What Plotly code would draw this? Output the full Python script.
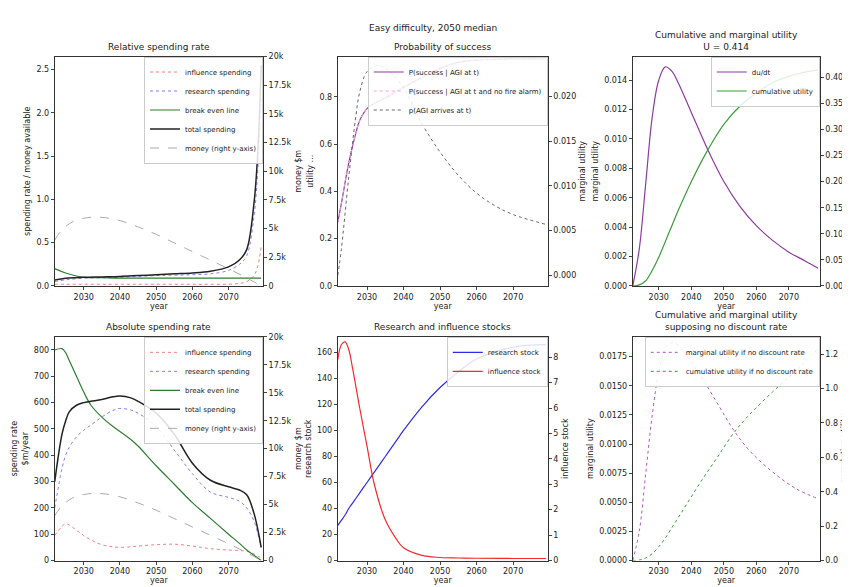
import plotly.graph_objects as go

years_a = [2022, 2025, 2030, 2035, 2040, 2045, 2050, 2055, 2060, 2065, 2070, 2073, 2075, 2077, 2078, 2079]
rel_influence = [0.02, 0.02, 0.02, 0.02, 0.02, 0.02, 0.02, 0.02, 0.02, 0.02, 0.02, 0.03, 0.05, 0.12, 0.22, 0.45]
rel_research = [0.05, 0.07, 0.09, 0.095, 0.1, 0.11, 0.12, 0.125, 0.13, 0.14, 0.18, 0.25, 0.35, 0.8, 1.3, 2.2]
rel_breakeven = [0.2, 0.15, 0.1, 0.095, 0.09, 0.09, 0.09, 0.09, 0.09, 0.09, 0.09, 0.09, 0.09, 0.09, 0.09, 0.09]
rel_total = [0.07, 0.09, 0.1, 0.105, 0.11, 0.12, 0.13, 0.14, 0.15, 0.17, 0.22, 0.3, 0.42, 0.95, 1.5, 2.55]

years_m = [2022, 2024, 2027, 2030, 2033, 2036, 2040, 2045, 2050, 2055, 2060, 2065, 2070, 2075, 2079]
money = [4000, 4900, 5600, 5900, 6000, 5950, 5700, 5150, 4500, 3750, 3000, 2250, 1500, 700, 0]

years_b = [2022, 2024, 2025, 2026, 2028, 2030, 2032, 2035, 2038, 2040, 2043, 2045, 2050, 2055, 2060, 2065, 2070, 2073, 2075, 2077, 2079]
abs_influence = [95, 130, 140, 135, 115, 95, 78, 60, 52, 50, 52, 55, 60, 62, 55, 45, 40, 38, 35, 25, 10]
abs_research = [200, 350, 400, 430, 470, 495, 515, 545, 570, 578, 572, 560, 510, 420, 330, 260, 240, 225, 200, 150, 50]
abs_breakeven = [800, 805, 790, 760, 700, 640, 590, 545, 510, 490, 460, 435, 360, 290, 220, 160, 100, 65, 40, 20, 0]
abs_total = [300, 480, 530, 565, 590, 600, 605, 612, 622, 625, 618, 605, 560, 480, 370, 305, 280, 268, 250, 180, 50]

years_p = [2022, 2023, 2025, 2027, 2028, 2030, 2033, 2035, 2040, 2045, 2050, 2055, 2060, 2065, 2070, 2079]
p_success = [0.27, 0.35, 0.52, 0.65, 0.7, 0.75, 0.78, 0.795, 0.84, 0.88, 0.92, 0.945, 0.955, 0.958, 0.96, 0.96]
p_success_nfa = [0.27, 0.35, 0.52, 0.65, 0.7, 0.75, 0.78, 0.795, 0.84, 0.88, 0.92, 0.945, 0.955, 0.958, 0.96, 0.96]
p_agi = [0.0, 0.003, 0.011, 0.018, 0.0205, 0.0228, 0.0235, 0.0232, 0.021, 0.017, 0.0138, 0.0112, 0.0092, 0.0078, 0.0068, 0.0057]

years_u = [2022, 2024, 2026, 2028, 2030, 2032, 2034, 2036, 2040, 2045, 2050, 2055, 2060, 2065, 2070, 2075, 2079]
du_dt = [0.0, 0.0025, 0.007, 0.0115, 0.014, 0.0149, 0.0146, 0.0138, 0.0118, 0.0093, 0.0071, 0.0054, 0.0041, 0.0031, 0.0023, 0.0017, 0.0012]
cum_u = [0.0, 0.002, 0.01, 0.03, 0.055, 0.085, 0.115, 0.145, 0.2, 0.26, 0.31, 0.345, 0.37, 0.39, 0.402, 0.41, 0.414]

years_s = [2022, 2023, 2024, 2025, 2026, 2028, 2030, 2032, 2035, 2038, 2040, 2045, 2050, 2055, 2060, 2070, 2079]
research_stock = [27, 31, 35, 40, 44, 52, 60, 68, 80, 92, 100, 118, 133, 145, 155, 164, 166]
influence_stock = [7.9, 8.5, 8.6, 8.3, 7.6, 6.0, 4.5, 3.0, 1.6, 0.85, 0.5, 0.2, 0.12, 0.1, 0.09, 0.08, 0.08]

years_n = [2022, 2024, 2026, 2028, 2030, 2032, 2034, 2036, 2038, 2043, 2048, 2053, 2058, 2065, 2072, 2079]
du_nd = [0.0, 0.0025, 0.0075, 0.0125, 0.0162, 0.0182, 0.0187, 0.0185, 0.0178, 0.0158, 0.0135, 0.0112, 0.0094, 0.0076, 0.0062, 0.0053]
cum_nd = [0.0, 0.003, 0.015, 0.04, 0.08, 0.13, 0.19, 0.25, 0.31, 0.46, 0.6, 0.74, 0.85, 0.98, 1.1, 1.23]

fig = go.Figure()
F = dict(family="DejaVu Sans", size=8, color="#222")

cols = [(0.055, 0.30), (0.388, 0.635), (0.735, 0.955)]
rows = [(0.526, 0.923), (0.051, 0.438)]

def sc(x, y, xa, ya, name, color, dash="solid", width=1, legend="legend", show=True):
    fig.add_trace(go.Scatter(x=x, y=y, xaxis=xa, yaxis=ya, name=name, mode="lines",
                             line=dict(color=color, dash=dash, width=width, shape="spline"),
                             legend=legend, showlegend=show))

axcfg = dict(showline=True, linecolor="#333", ticks="outside", ticklen=3,
             showgrid=False, zeroline=False, tickfont=F)

panels = []
n = 0
for r in range(2):
    for c in range(3):
        n += 1
        panels.append((n, cols[c], rows[r]))

layout = {}
for (k, dx, dy) in panels:
    xa = "xaxis" if k == 1 else f"xaxis{k}"
    yl = 2 * k - 1
    yr = 2 * k
    ylname = "yaxis" if yl == 1 else f"yaxis{yl}"
    layout[xa] = dict(domain=dx, anchor=f"y{'' if yl == 1 else yl}", range=[2022, 2079.5],
                      tickvals=[2030, 2040, 2050, 2060, 2070], mirror=True,
                      title=dict(text="year", font=F, standoff=2), **axcfg)
    layout[ylname] = dict(domain=dy, anchor=f"x{'' if k == 1 else k}", mirror=False, **axcfg)
    layout[f"yaxis{yr}"] = dict(overlaying=f"y{'' if yl == 1 else yl}", side="right",
                                anchor=f"x{'' if k == 1 else k}", **axcfg)

def t(s):
    return dict(text=s, font=dict(family="DejaVu Sans", size=8, color="#222"), standoff=4)

layout["yaxis"].update(range=[0, 2.65], tickvals=[0, 0.5, 1, 1.5, 2, 2.5], tickformat=".1f",
                       title=t("spending rate / money available"))
layout["yaxis2"].update(range=[0, 20000], dtick=2500, title=t("money $m"))
layout["yaxis3"].update(range=[0, 0.97], dtick=0.2, tickformat=".1f", title=t("utility ..."))
layout["yaxis4"].update(range=[-0.0012, 0.0245], dtick=0.005, tickformat=".3f", title=t("marginal utility"))
layout["yaxis5"].update(range=[0, 0.0156], dtick=0.002, tickformat=".3f", title=t("marginal utility"))
layout["yaxis6"].update(range=[0, 0.44], dtick=0.05, tickformat=".2f", title=t("cumulative utility"))
layout["yaxis7"].update(range=[0, 850], dtick=100, title=t("spending rate<br>$m/year"))
layout["yaxis8"].update(range=[0, 20000], dtick=2500, title=t("money $m"))
layout["yaxis9"].update(range=[0, 172], dtick=20, title=t("research stock"))
layout["yaxis10"].update(range=[0, 8.8], dtick=1, title=t("influence stock"))
layout["yaxis11"].update(range=[0, 0.0192], dtick=0.0025, tickformat=".4f", title=t("marginal utility"))
layout["yaxis12"].update(range=[0, 1.3], dtick=0.2, tickformat=".1f", title=t("cumulative utility"))

# Panel 1
sc(years_a, rel_influence, "x", "y", "influence spending", "#f08080", "dot", legend="legend")
sc(years_a, rel_research, "x", "y", "research spending", "#8080f0", "dot", legend="legend")
sc(years_a, rel_breakeven, "x", "y", "break even line", "#2e7d32", legend="legend", width=1.2)
sc(years_a, rel_total, "x", "y", "total spending", "#222", legend="legend", width=1.5)
sc(years_m, money, "x", "y2", "money (right y-axis)", "#aaaaaa", "dash", legend="legend")
# Panel 2
sc(years_p, p_success, "x2", "y3", "P(success | AGI at t)", "#8e3a9e", legend="legend2", width=1.2)
sc(years_p, p_success_nfa, "x2", "y3", "P(success | AGI at t and no fire alarm)", "#f4a6d7", "dot", legend="legend2")
sc(years_p, p_agi, "x2", "y4", "p(AGI arrives at t)", "#666", "dot", legend="legend2")
# Panel 3
sc(years_u, du_dt, "x3", "y5", "du/dt", "#8e3a9e", legend="legend3", width=1.2)
sc(years_u, cum_u, "x3", "y6", "cumulative utility", "#3a9e3a", legend="legend3", width=1.2)
# Panel 4
sc(years_b, abs_influence, "x4", "y7", "influence spending", "#f08080", "dot", legend="legend4")
sc(years_b, abs_research, "x4", "y7", "research spending", "#8080f0", "dot", legend="legend4")
sc(years_b, abs_breakeven, "x4", "y7", "break even line", "#2e7d32", legend="legend4", width=1.2)
sc(years_b, abs_total, "x4", "y7", "total spending", "#222", legend="legend4", width=1.5)
sc(years_m, money, "x4", "y8", "money (right y-axis)", "#aaaaaa", "dash", legend="legend4")
# Panel 5
sc(years_s, research_stock, "x5", "y9", "research stock", "#2b2bf0", legend="legend5", width=1.2)
sc(years_s, influence_stock, "x5", "y10", "influence stock", "#f02b2b", legend="legend5", width=1.2)
# Panel 6
sc(years_n, du_nd, "x6", "y11", "marginal utility if no discount rate", "#b05ab8", "dot", legend="legend6")
sc(years_n, cum_nd, "x6", "y12", "cumulative utility if no discount rate", "#3a9e3a", "dot", legend="legend6")

lf = dict(family="DejaVu Sans", size=7, color="#222")
def leg(dx, dy):
    return dict(x=dx[1], y=dy[1], xanchor="right", yanchor="top", bgcolor="rgba(255,255,255,0.85)",
                bordercolor="#ccc", borderwidth=1, font=lf, tracegroupgap=0, itemwidth=30)

layout["legend"] = leg(cols[0], rows[0])
layout["legend2"] = leg(cols[1], rows[0])
layout["legend3"] = leg(cols[2], rows[0])
layout["legend4"] = leg(cols[0], rows[1])
layout["legend5"] = leg(cols[1], rows[1])
layout["legend6"] = leg(cols[2], rows[1])

titles = ["Relative spending rate", "Probability of success", "Cumulative and marginal utility<br>U = 0.414",
          "Absolute spending rate", "Research and influence stocks",
          "Cumulative and marginal utility<br>supposing no discount rate"]
ann = []
for (k, dx, dy), tt in zip(panels, titles):
    ann.append(dict(text=tt, x=(dx[0] + dx[1]) / 2, y=dy[1] + 0.005, xref="paper", yref="paper",
                    xanchor="center", yanchor="bottom", showarrow=False,
                    font=dict(family="DejaVu Sans", size=9, color="#222")))
ann.append(dict(text="Easy difficulty, 2050 median", x=0.5, y=0.985, xref="paper", yref="paper",
                xanchor="center", yanchor="top", showarrow=False,
                font=dict(family="DejaVu Sans", size=9, color="#222")))

fig.update_layout(width=850, height=587, margin=dict(l=0, r=0, t=0, b=0),
                  plot_bgcolor="white", paper_bgcolor="white", annotations=ann, **layout)
fig.write_html("out.html")
